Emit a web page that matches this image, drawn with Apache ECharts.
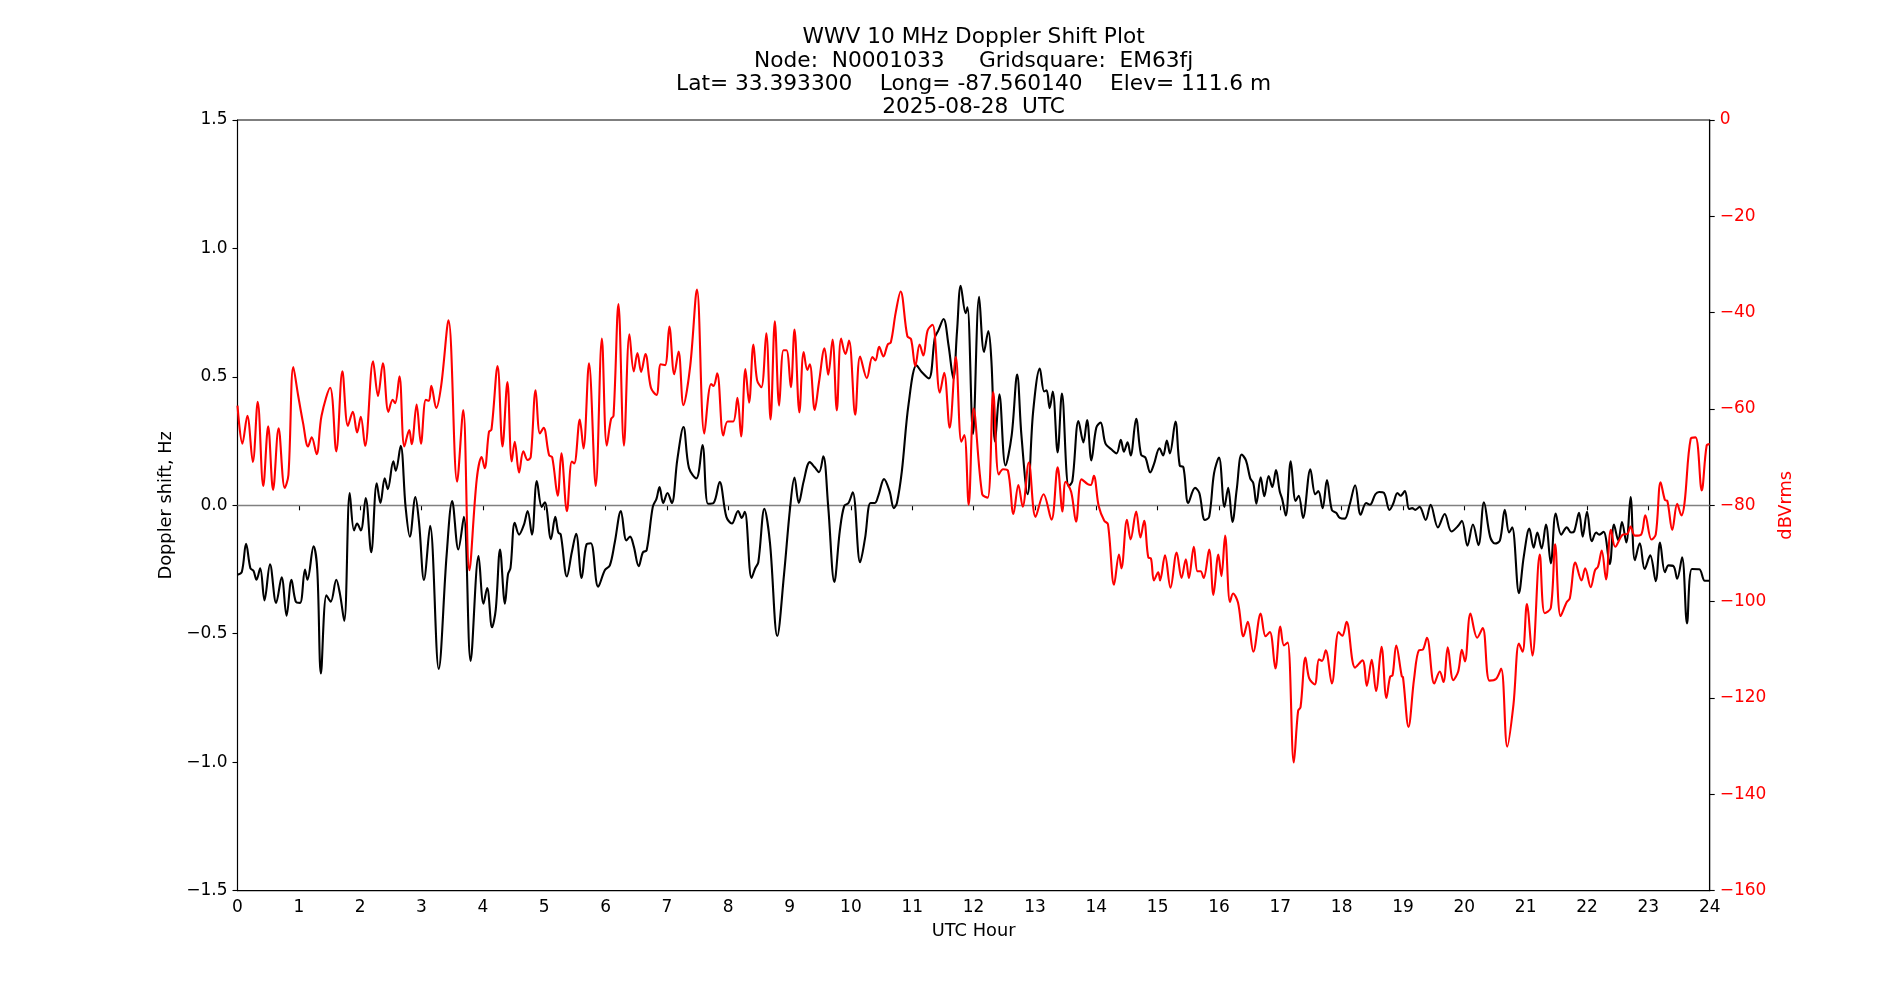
<!DOCTYPE html>
<html>
<head>
<meta charset="utf-8">
<title>WWV 10 MHz Doppler Shift Plot</title>
<script src="https://cdn.jsdelivr.net/npm/echarts@6/dist/echarts.min.js"></script>
<style>
  html, body { margin: 0; padding: 0; background: #fff; }
  #main { width: 1900px; height: 1000px; }
</style>
</head>
<body>
<div id="main"></div>
<script>
// Doppler shift (Hz), black trace at its turning points
const dopplerHours = [
  0.00, 0.07, 0.14, 0.21, 0.26, 0.31, 0.37, 0.44, 0.53, 0.63, 0.72, 0.80, 0.88, 0.95, 1.02, 1.10, 1.14, 1.24, 1.30, 1.36,
  1.45, 1.52, 1.61, 1.67, 1.74, 1.83, 1.90, 1.95, 2.01, 2.09, 2.18, 2.27, 2.33, 2.40, 2.45, 2.54, 2.58, 2.66, 2.74, 2.81,
  2.90, 2.96, 3.04, 3.14, 3.28, 3.41, 3.50, 3.60, 3.69, 3.80, 3.93,
  4.01, 4.07, 4.15, 4.21, 4.28, 4.36, 4.41, 4.45, 4.52, 4.59, 4.67, 4.73, 4.80, 4.88, 4.96, 5.01, 5.11, 5.18, 5.23, 5.27,
  5.37, 5.45, 5.52, 5.61, 5.69, 5.76, 5.88, 5.99, 6.07, 6.15, 6.25, 6.34, 6.40, 6.46, 6.54, 6.61, 6.67, 6.77, 6.83, 6.88,
  6.94, 7.01, 7.08, 7.17, 7.27, 7.36, 7.48, 7.58, 7.67, 7.76, 7.86,
  7.97, 8.06, 8.16, 8.22, 8.27, 8.38, 8.44, 8.49, 8.59, 8.68, 8.80, 8.91, 9.01, 9.08, 9.15, 9.23, 9.33, 9.41, 9.48, 9.55,
  9.63, 9.73, 9.82, 9.89, 9.96, 10.03, 10.15, 10.23, 10.32, 10.39, 10.45, 10.54, 10.63, 10.70, 10.75, 10.83, 10.94, 11.07,
  11.15, 11.27, 11.37, 11.42, 11.51, 11.59, 11.67, 11.73, 11.79, 11.87, 11.90,
  11.99, 12.09, 12.17, 12.24, 12.29, 12.35, 12.42, 12.52, 12.62, 12.71, 12.78, 12.88, 12.97, 13.08, 13.15, 13.19, 13.24,
  13.29, 13.37, 13.44, 13.55, 13.61, 13.71, 13.79, 13.85, 13.92, 14.00, 14.07, 14.15, 14.25, 14.33, 14.40, 14.45, 14.51,
  14.56, 14.65, 14.73, 14.80, 14.88, 14.94, 15.03, 15.09, 15.15, 15.20, 15.29, 15.36, 15.42, 15.50, 15.61, 15.68, 15.77,
  15.84, 15.92,
  16.00, 16.09, 16.15, 16.22, 16.29, 16.37, 16.44, 16.51, 16.56, 16.61, 16.68, 16.74, 16.81, 16.87, 16.93, 16.99, 17.03,
  17.09, 17.17, 17.25, 17.30, 17.37, 17.49, 17.57, 17.62, 17.69, 17.76, 17.84, 17.91, 17.97, 18.05, 18.13, 18.22, 18.31,
  18.40, 18.46, 18.55, 18.61, 18.69, 18.78, 18.84, 18.91, 18.96, 19.03, 19.10, 19.15, 19.20, 19.27, 19.37, 19.45, 19.57,
  19.68, 19.79, 19.90, 19.96,
  20.05, 20.14, 20.23, 20.32, 20.42, 20.50, 20.58, 20.66, 20.73, 20.78, 20.89, 20.97, 21.06, 21.13, 21.19, 21.26, 21.33,
  21.41, 21.49, 21.58, 21.67, 21.74, 21.79, 21.87, 21.93, 22.00, 22.08, 22.15, 22.20, 22.27, 22.37, 22.44, 22.51, 22.57,
  22.64, 22.71, 22.78, 22.86, 22.94, 23.03, 23.12, 23.19, 23.27, 23.33, 23.41, 23.47, 23.55, 23.63, 23.71, 23.83, 23.92,
  24.00
];
const dopplerHz = [
  -0.27, -0.26, -0.15, -0.245, -0.255, -0.29, -0.245, -0.37, -0.23, -0.38, -0.28, -0.43, -0.29, -0.375, -0.38, -0.25, -0.29, -0.16, -0.25, -0.655,
  -0.35, -0.375, -0.29, -0.345, -0.45, 0.048, -0.098, -0.071, -0.098, 0.028, -0.183, 0.086, 0.009, 0.105, 0.063, 0.171, 0.135, 0.232, -0.006, -0.122,
  0.032, -0.068, -0.291, -0.08, -0.637, -0.191, 0.017, -0.172, -0.045, -0.606, -0.198,
  -0.383, -0.322, -0.475, -0.406, -0.172, -0.383, -0.268, -0.245, -0.068, -0.114, -0.075, -0.022, -0.114, 0.094, -0.006, 0.012, -0.132, -0.045, -0.106, -0.114,
  -0.277, -0.183, -0.111, -0.283, -0.152, -0.148, -0.317, -0.252, -0.234, -0.145, -0.022, -0.137, -0.122, -0.16, -0.237, -0.183, -0.175, -0.006, 0.025, 0.071,
  0.009, 0.048, 0.009, 0.178, 0.305, 0.145, 0.105, 0.235, 0.006, 0.009, 0.091,
  -0.045, -0.071, -0.022, -0.049, -0.025, -0.283, -0.245, -0.222, -0.014, -0.145, -0.509, -0.268, -0.006, 0.108, 0.009, 0.094, 0.168, 0.148, 0.129, 0.191,
  -0.006, -0.298, -0.098, -0.003, 0.009, 0.051, -0.222, -0.129, 0.009, 0.009, 0.04, 0.102, 0.055, -0.011, 0.009, 0.132, 0.394, 0.545,
  0.52, 0.494, 0.655, 0.678, 0.725, 0.625, 0.494, 0.678, 0.855, 0.748, 0.771,
  0.278, 0.812, 0.597, 0.678, 0.563, 0.248, 0.432, 0.155, 0.271, 0.509, 0.271, 0.043, 0.363, 0.532, 0.443, 0.448, 0.378,
  0.443, 0.206, 0.435, 0.074, 0.094, 0.328, 0.245, 0.332, 0.175, 0.302, 0.322, 0.24, 0.217, 0.202, 0.255, 0.209, 0.245,
  0.194, 0.337, 0.197, 0.186, 0.128, 0.16, 0.222, 0.194, 0.252, 0.202, 0.326, 0.155, 0.148, 0.009, 0.068, 0.048, -0.057,
  -0.045, 0.125,
  0.186, -0.006, 0.068, -0.065, 0.063, 0.198, 0.175, 0.105, 0.086, 0.006, 0.109, 0.035, 0.114, 0.071, 0.137, 0.055, 0.025,
  -0.04, 0.171, 0.017, 0.037, -0.049, 0.14, 0.043, 0.055, -0.011, 0.098, -0.018, -0.029, -0.049, -0.052, 0.002, 0.078, -0.037,
  0.009, 0.002, 0.043, 0.052, 0.048, -0.018, 0.006, 0.048, 0.037, 0.055, -0.014, -0.011, -0.018, -0.006, -0.057, 0.002, -0.086,
  -0.034, -0.102, -0.08, -0.06,
  -0.157, -0.075, -0.155, 0.012, -0.122, -0.149, -0.137, -0.018, -0.106, -0.086, -0.342, -0.198, -0.091, -0.165, -0.106, -0.168, -0.075,
  -0.226, -0.032, -0.114, -0.086, -0.106, -0.102, -0.029, -0.122, -0.025, -0.14, -0.106, -0.114, -0.103, -0.229, -0.075, -0.137, -0.065,
  -0.145, 0.032, -0.214, -0.148, -0.248, -0.195, -0.295, -0.145, -0.26, -0.234, -0.237, -0.286, -0.202, -0.46, -0.248, -0.249, -0.294,
  -0.294
];

// received signal level (dBVrms), red trace
const signalHours = [
  0.00, 0.08, 0.16, 0.25, 0.33, 0.42, 0.50, 0.58, 0.67, 0.77, 0.83, 0.91, 0.99, 1.07, 1.15, 1.21, 1.29, 1.37, 1.51, 1.61,
  1.71, 1.80, 1.88, 1.95, 2.01, 2.08, 2.21, 2.29, 2.37, 2.46, 2.53, 2.57, 2.64, 2.72, 2.80, 2.84, 2.92, 2.99, 3.07, 3.12,
  3.16, 3.24, 3.32, 3.44, 3.58, 3.68, 3.78, 3.90, 3.98, 4.03,
  4.10, 4.14, 4.24, 4.32, 4.40, 4.47, 4.52, 4.59, 4.66, 4.73, 4.78, 4.86, 4.93, 4.99, 5.08, 5.13, 5.22, 5.28, 5.37, 5.45,
  5.49, 5.58, 5.64, 5.73, 5.84, 5.94, 6.02, 6.09, 6.13, 6.21, 6.30, 6.39, 6.46, 6.52, 6.58, 6.65, 6.74, 6.83, 6.90, 6.97,
  7.04, 7.12, 7.19, 7.27, 7.38, 7.49, 7.61, 7.72, 7.76, 7.82, 7.92, 7.99,
  8.08, 8.15, 8.21, 8.28, 8.34, 8.41, 8.47, 8.54, 8.62, 8.69, 8.76, 8.83, 8.90, 8.95, 9.02, 9.08, 9.16, 9.23, 9.29, 9.33,
  9.41, 9.48, 9.57, 9.63, 9.70, 9.77, 9.84, 9.91, 9.97, 10.07, 10.15, 10.26, 10.35, 10.40, 10.46, 10.53, 10.60, 10.65,
  10.73, 10.81, 10.92, 10.98, 11.05, 11.12, 11.18, 11.25, 11.33, 11.45, 11.52, 11.61, 11.71, 11.80, 11.85, 11.92,
  12.00, 12.14, 12.23, 12.32, 12.41, 12.48, 12.56, 12.65, 12.73, 12.80, 12.90, 13.01, 13.14, 13.27, 13.37, 13.45, 13.50,
  13.59, 13.67, 13.76, 13.86, 13.91, 13.96, 14.04, 14.13, 14.19, 14.29, 14.37, 14.41, 14.50, 14.56, 14.65, 14.72, 14.78,
  14.85, 14.89, 14.94, 15.01, 15.04, 15.12, 15.21, 15.31, 15.39, 15.46, 15.51, 15.59, 15.65, 15.70, 15.75, 15.84, 15.91,
  15.99,
  16.04, 16.10, 16.18, 16.23, 16.31, 16.40, 16.47, 16.56, 16.68, 16.76, 16.83, 16.92, 17.00, 17.06, 17.12, 17.22, 17.29,
  17.33, 17.41, 17.47, 17.56, 17.63, 17.68, 17.74, 17.84, 17.95, 18.01, 18.08, 18.22, 18.34, 18.41, 18.49, 18.56, 18.65,
  18.73, 18.79, 18.83, 18.89, 18.98, 19.00, 19.09, 19.18, 19.26, 19.32, 19.39, 19.51, 19.60, 19.66, 19.73, 19.82, 19.90,
  19.96, 20.01,
  20.10, 20.21, 20.30, 20.41, 20.52, 20.60, 20.70, 20.80, 20.89, 20.95, 21.02, 21.11, 21.23, 21.31, 21.41, 21.48, 21.57,
  21.67, 21.72, 21.81, 21.91, 21.97, 22.06, 22.13, 22.18, 22.24, 22.31, 22.39, 22.46, 22.58, 22.66, 22.71, 22.78, 22.88,
  22.95, 23.05, 23.12, 23.20, 23.27, 23.31, 23.39, 23.47, 23.54, 23.59, 23.69, 23.77, 23.87, 23.95, 24.00
];
const signalDb = [
  -59.3, -67.2, -61.4, -71.0, -58.5, -76.0, -63.6, -76.8, -64.0, -76.4, -73.7, -51.3, -57.3, -63.0, -67.8, -65.9, -69.4, -61.4, -55.6, -68.8,
  -52.2, -63.5, -60.6, -64.9, -61.6, -67.7, -50.1, -57.3, -50.5, -60.6, -58.1, -58.8, -53.2, -67.8, -64.4, -67.3, -59.1, -67.2, -58.1, -58.3,
  -55.2, -59.8, -55.2, -41.6, -75.1, -60.2, -93.5, -74.6, -70.0, -72.3,
  -64.7, -64.3, -51.1, -67.8, -54.4, -70.9, -66.8, -73.2, -68.8, -70.6, -70.0, -56.1, -65.1, -63.9, -69.6, -70.0, -78.0, -69.2, -81.2, -70.9,
  -71.3, -62.2, -68.2, -50.5, -76.0, -45.4, -67.6, -62.1, -61.4, -38.2, -67.6, -44.5, -52.2, -48.4, -52.3, -48.6, -55.6, -57.1, -50.7, -50.9,
  -42.9, -52.8, -48.1, -59.2, -51.1, -35.2, -65.1, -54.8, -55.2, -52.6, -65.5, -62.6,
  -62.6, -57.7, -65.7, -51.7, -58.7, -46.6, -54.0, -55.5, -44.3, -62.2, -41.8, -59.3, -47.8, -47.8, -55.5, -43.5, -60.7, -48.2, -51.9, -50.7,
  -60.2, -54.4, -47.4, -52.9, -45.6, -60.3, -45.4, -48.6, -45.8, -61.2, -49.1, -53.6, -49.2, -49.9, -47.1, -49.1, -46.6, -46.2,
  -40.0, -35.6, -44.9, -45.5, -51.1, -46.6, -48.9, -43.7, -42.5, -56.6, -52.5, -63.9, -49.2, -66.8, -65.4, -79.9,
  -59.9, -77.7, -78.4, -56.5, -73.6, -72.5, -72.8, -81.8, -75.8, -80.3, -71.1, -82.4, -77.7, -83.0, -72.1, -81.3, -75.1,
  -77.2, -83.4, -74.6, -75.6, -75.8, -73.9, -80.2, -83.2, -83.9, -96.5, -90.2, -93.1, -83.0, -87.1, -81.3, -86.7, -83.2,
  -90.9, -91.0, -95.6, -93.9, -95.6, -90.4, -97.1, -89.8, -95.1, -91.2, -95.1, -88.6, -93.7, -93.7, -95.1, -89.2, -98.6,
  -90.2,
  -94.7, -86.3, -100.1, -98.3, -100.2, -107.2, -104.2, -110.4, -102.5, -107.2, -106.3, -113.9, -105.2, -109.1, -108.5, -133.4, -122.7,
  -121.9, -111.6, -115.9, -117.2, -112.0, -112.3, -110.1, -117.0, -106.3, -107.1, -104.2, -113.7, -112.2, -117.5, -112.1, -118.6, -109.4,
  -120.0, -115.6, -115.3, -109.1, -115.5, -115.7, -126.0, -116.1, -110.1, -110.0, -107.5, -117.0, -114.5, -116.7, -109.5, -116.3, -114.5,
  -110.0, -112.4,
  -102.5, -107.5, -105.5, -116.4, -116.0, -113.9, -130.1, -121.5, -108.7, -110.4, -100.5, -111.2, -90.2, -102.4, -101.3, -88.1, -103.0,
  -100.1, -99.3, -91.9, -95.6, -93.1, -97.0, -93.5, -92.7, -89.4, -95.4, -85.1, -88.6, -86.1, -85.9, -84.4, -86.3, -86.1,
  -82.1, -87.1, -86.1, -75.2, -78.9, -79.1, -85.1, -79.7, -82.1, -79.5, -66.2, -65.9, -76.9, -67.6, -67.3
];

const titleLines = [
  'WWV 10 MHz Doppler Shift Plot',
  'Node:  N0001033     Gridsquare:  EM63fj',
  'Lat= 33.393300    Long= -87.560140    Elev= 111.6 m',
  '2025-08-28  UTC'
];

const FONT = '"DejaVu Sans", Verdana, sans-serif';
const minus = (s) => String(s).replace('-', '\u2212');

const chart = echarts.init(document.getElementById('main'), null, { renderer: 'canvas' });

chart.setOption({
  animation: false,
  backgroundColor: '#fff',
  textStyle: { fontFamily: FONT },
  grid: {
    left: 237.5,
    right: 190.3,
    top: 120,
    bottom: 109.4,
    show: true,
    borderColor: '#000',
    borderWidth: 1.1,
    backgroundColor: 'transparent'
  },
  graphic: [{
    type: 'text',
    x: 973.6,
    y: 26.2,
    style: {
      text: titleLines.join('\n'),
      font: '21.7px ' + FONT,
      lineHeight: 23.3,
      fill: '#000',
      align: 'center',
      verticalAlign: 'top'
    }
  }],
  xAxis: {
    type: 'value',
    min: 0,
    max: 24,
    interval: 1,
    name: 'UTC Hour',
    nameLocation: 'middle',
    nameGap: 32,
    nameTextStyle: { color: '#000', fontSize: 17.8, fontFamily: FONT },
    axisLine: { lineStyle: { color: '#000', width: 1.1 } },
    axisTick: { length: 5, lineStyle: { color: '#000', width: 1.1 } },
    axisLabel: { color: '#000', fontSize: 17, fontFamily: FONT, margin: 8 },
    splitLine: { show: false }
  },
  yAxis: [{
    type: 'value',
    min: -1.5,
    max: 1.5,
    interval: 0.5,
    name: 'Doppler shift, Hz',
    nameLocation: 'middle',
    nameRotate: 90,
    nameGap: 59.5,
    nameTextStyle: { color: '#000', fontSize: 17.8, fontFamily: FONT },
    axisLine: { show: true, lineStyle: { color: '#000', width: 1.1 } },
    axisTick: { show: true, length: 5, lineStyle: { color: '#000', width: 1.1 } },
    axisLabel: {
      color: '#000', fontSize: 17, fontFamily: FONT, margin: 10,
      formatter: (v) => minus(v.toFixed(1))
    },
    splitLine: { show: false }
  }, {
    type: 'value',
    position: 'right',
    min: -160,
    max: 0,
    interval: 20,
    name: 'dBVrms',
    nameLocation: 'middle',
    nameRotate: 90,
    nameGap: 62,
    nameTextStyle: { color: '#ff0000', fontSize: 17.8, fontFamily: FONT },
    axisLine: { show: true, lineStyle: { color: '#000', width: 1.1 } },
    axisTick: { show: true, length: 5, lineStyle: { color: '#000', width: 1.1 } },
    axisLabel: {
      color: '#ff0000', fontSize: 17, fontFamily: FONT, margin: 10,
      formatter: (v) => minus(v)
    },
    splitLine: { show: false }
  }],
  series: [{
    name: 'Doppler shift',
    type: 'line',
    yAxisIndex: 0,
    data: dopplerHours.map((h, i) => [h, dopplerHz[i]]),
    showSymbol: false,
    smooth: 0.35,
    lineStyle: { color: '#000', width: 2.1 },
    z: 3,
    markLine: {
      silent: true,
      symbol: 'none',
      label: { show: false },
      lineStyle: { color: '#808080', width: 1.3, type: 'solid' },
      data: [{ yAxis: 0 }],
      z: 2
    }
  }, {
    name: 'dBVrms',
    type: 'line',
    yAxisIndex: 1,
    data: signalHours.map((h, i) => [h, signalDb[i]]),
    showSymbol: false,
    smooth: 0.35,
    lineStyle: { color: '#ff0000', width: 2.1 },
    z: 4
  }]
});
</script>
</body>
</html>
